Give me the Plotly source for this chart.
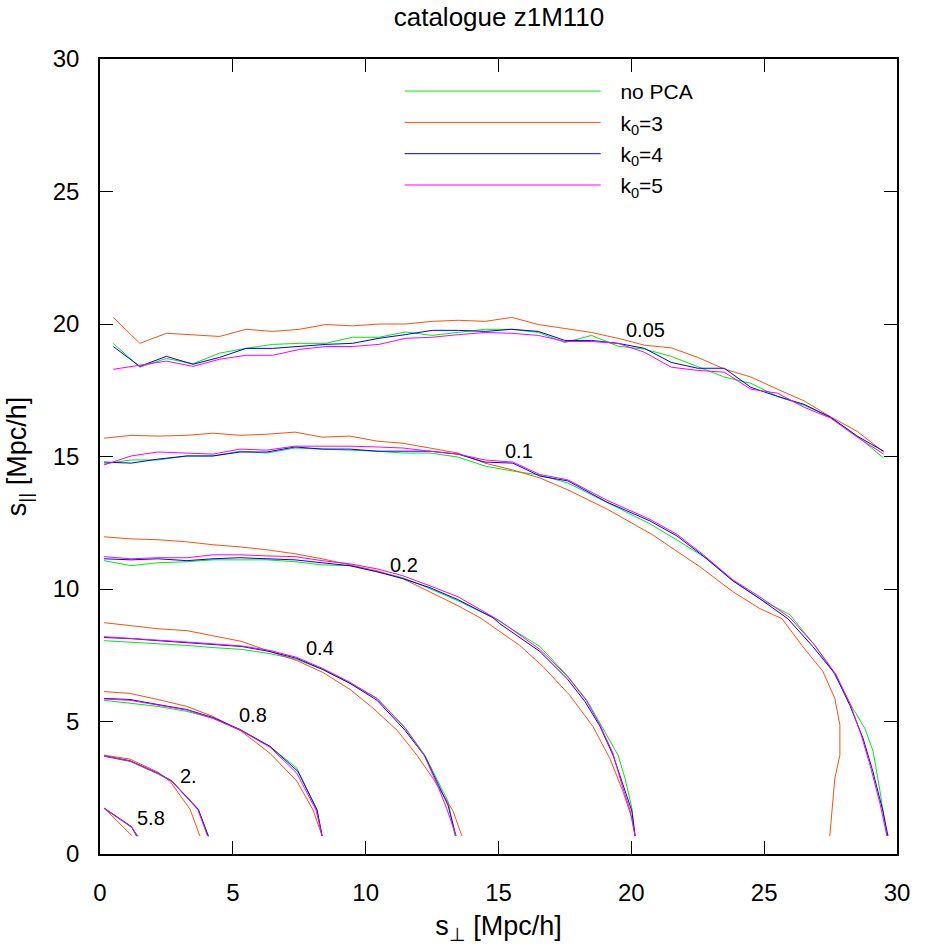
import plotly.graph_objects as go

# ---------------- data ----------------
SERIES = ["no PCA", "k<sub>0</sub>=3", "k<sub>0</sub>=4", "k<sub>0</sub>=5"]
COLORS = ["#00ee00", "#ff4f0f", "#0000ff", "#ff00ff"]

TICKS = [0, 5, 10, 15, 20, 25, 30]

LEVEL_LABELS = ["0.05", "0.1", "0.2", "0.4", "0.8", "2.", "5.8"]
LABEL_X = [20.55, 15.77, 11.46, 8.28, 5.76, 3.33, 1.91]
LABEL_Y = [19.78, 15.22, 10.91, 7.77, 5.23, 2.95, 1.34]

# level 0.05
X_005 = [0.5, 1.5, 2.5, 3.5, 4.5, 5.5, 6.5, 7.5, 8.5, 9.5, 10.5, 11.5, 12.5, 13.5, 14.5,
         15.5, 16.5, 17.5, 18.5, 19.5, 20.5, 21.5, 22.5, 23.5, 24.5, 25.5, 26.5, 27.5, 28.5, 29.5]
Y_005_NOPCA = [19.27, 18.37, 18.7, 18.5, 18.9, 19.08, 19.23, 19.27, 19.27, 19.5, 19.5, 19.7, 19.57, 19.68, 19.8,
               19.8, 19.68, 19.3, 19.57, 19.16, 19.05, 18.78, 18.4, 18.0, 17.76, 17.27, 16.93, 16.48, 15.77, 14.94]
Y_005_K3 = [20.25, 19.27, 19.65, 19.6, 19.53, 19.8, 19.72, 19.8, 19.98, 19.93, 20.0, 20.0, 20.1, 20.14, 20.1,
            20.25, 19.98, 19.83, 19.68, 19.46, 19.2, 19.1, 18.74, 18.3, 18.0, 17.54, 17.1, 16.5, 15.95, 15.17]
Y_005_K4 = [19.15, 18.4, 18.78, 18.48, 18.74, 19.08, 19.08, 19.15, 19.23, 19.27, 19.46, 19.6, 19.76, 19.76, 19.72,
            19.8, 19.72, 19.38, 19.38, 19.27, 19.08, 18.55, 18.33, 18.33, 17.61, 17.27, 16.97, 16.48, 15.77, 15.2]
Y_005_K5 = [18.29, 18.44, 18.6, 18.4, 18.67, 18.82, 18.82, 19.04, 19.15, 19.15, 19.23, 19.46, 19.5, 19.6, 19.68,
            19.65, 19.57, 19.34, 19.34, 19.27, 18.93, 18.37, 18.25, 18.18, 17.54, 17.39, 16.86, 16.45, 15.73, 15.09]

# level 0.1
X_01_NOPCA = [0.15, 1.17, 2.18, 3.27, 4.25, 5.27, 6.28, 7.34, 8.36, 9.41, 10.43, 11.4, 12.42, 13.47, 14.49, 15.54,
              16.56, 17.61, 18.82, 20.7, 21.83, 22.85, 23.82, 24.95, 25.97, 26.91, 27.59, 28.23, 28.79, 29.1, 29.36, 29.62]
Y_01_NOPCA = [14.72, 14.87, 14.87, 15.02, 15.02, 15.2, 15.13, 15.32, 15.28, 15.24, 15.2, 15.13, 15.13, 14.98, 14.64, 14.45,
              14.3, 14.0, 13.4, 12.46, 11.78, 11.14, 10.31, 9.56, 9.03, 7.87, 6.89, 5.68, 4.74, 3.88, 2.37, 0.68]
X_01_K3 = [0.15, 1.17, 2.18, 3.27, 4.25, 5.27, 6.28, 7.34, 8.36, 9.41, 10.43, 11.4, 12.42, 13.47, 14.49, 15.54,
           16.56, 17.61, 19.08, 20.81, 21.57, 22.58, 23.82, 24.84, 25.67, 26.42, 27.21, 27.66, 27.85, 27.85, 27.66, 27.55, 27.47]
Y_01_K3 = [15.69, 15.8, 15.77, 15.8, 15.88, 15.8, 15.84, 15.92, 15.73, 15.77, 15.58, 15.5, 15.32, 15.13, 14.75, 14.49,
           14.19, 13.74, 13.02, 12.04, 11.52, 10.84, 9.9, 9.26, 8.88, 7.87, 6.89, 5.87, 4.86, 3.73, 2.86, 1.73, 0.68]
X_01_K4 = [0.15, 1.17, 2.18, 3.27, 4.25, 5.27, 6.28, 7.34, 8.36, 9.41, 10.43, 11.4, 12.42, 13.47, 14.49, 15.54,
           16.56, 17.61, 19.08, 20.7, 21.72, 22.7, 23.82, 24.84, 25.89, 26.83, 27.66, 28.23, 28.72, 29.09, 29.47, 29.66]
Y_01_K4 = [14.79, 14.75, 14.9, 15.02, 15.02, 15.17, 15.17, 15.36, 15.28, 15.28, 15.2, 15.2, 15.2, 15.09, 14.79, 14.75,
           14.26, 14.08, 13.28, 12.57, 12.0, 11.25, 10.31, 9.63, 8.88, 7.83, 6.81, 5.6, 4.37, 3.12, 1.62, 0.68]
X_01_K5 = [0.15, 1.17, 2.18, 3.27, 4.25, 5.27, 6.28, 7.34, 8.36, 9.41, 10.43, 11.4, 12.42, 13.47, 14.49, 15.54,
           16.56, 17.61, 19.08, 20.7, 21.72, 22.7, 23.82, 24.9, 25.97, 26.91, 27.7, 28.23, 28.65, 29.0, 29.36, 29.62]
Y_01_K5 = [14.68, 15.02, 15.17, 15.13, 15.09, 15.28, 15.24, 15.39, 15.39, 15.39, 15.36, 15.32, 15.2, 15.09, 14.87, 14.79,
           14.32, 14.12, 13.35, 12.63, 12.06, 11.3, 10.35, 9.66, 8.92, 7.87, 6.78, 5.68, 4.5, 3.3, 1.9, 0.68]

# level 0.2
X_02_NOPCA = [0.15, 1.17, 2.18, 3.27, 4.25, 5.27, 6.28, 7.34, 8.36, 9.41, 10.43, 11.4, 12.42, 13.47,
              14.79, 15.05, 16.56, 17.58, 18.33, 18.82, 19.5, 19.76, 20.02, 20.14]
Y_02_NOPCA = [11.07, 10.88, 10.99, 11.03, 11.1, 11.1, 11.1, 11.03, 10.91, 10.88, 10.65, 10.43, 10.01, 9.56,
              8.92, 8.77, 7.83, 6.74, 5.8, 4.93, 3.73, 2.86, 1.73, 0.68]
X_02_K3 = [0.15, 1.17, 2.18, 3.27, 4.25, 5.27, 6.28, 7.34, 8.36, 9.41, 10.43, 11.4, 12.42, 13.47,
           14.3, 15.05, 15.8, 16.67, 17.69, 18.55, 19.19, 19.68, 20.02, 20.14]
Y_02_K3 = [11.97, 11.89, 11.86, 11.78, 11.67, 11.59, 11.48, 11.33, 11.14, 10.91, 10.69, 10.39, 9.9, 9.37,
           8.92, 8.39, 7.87, 7.08, 5.98, 4.82, 3.61, 2.37, 1.35, 0.68]
X_02_K4 = [0.15, 1.17, 2.18, 3.27, 4.25, 5.27, 6.28, 7.34, 8.36, 9.41, 10.43, 11.4, 12.42, 13.47,
           14.79, 15.05, 16.56, 17.58, 18.25, 18.82, 19.31, 19.68, 20.02, 20.14]
Y_02_K4 = [11.14, 11.1, 11.14, 11.07, 11.14, 11.18, 11.14, 11.1, 10.99, 10.88, 10.65, 10.39, 10.05, 9.6,
           8.92, 8.69, 7.64, 6.62, 5.76, 4.82, 3.73, 2.6, 1.62, 0.68]
X_02_K5 = [0.15, 1.17, 2.18, 3.27, 4.25, 5.27, 6.28, 7.34, 8.36, 9.41, 10.43, 11.4, 12.42, 13.47,
           14.79, 15.05, 16.56, 17.58, 18.3, 18.82, 19.31, 19.63, 19.95, 20.14]
Y_02_K5 = [11.22, 11.14, 11.18, 11.18, 11.29, 11.29, 11.25, 11.22, 11.07, 10.95, 10.76, 10.5, 10.12, 9.71,
           8.95, 8.8, 7.72, 6.72, 5.8, 4.87, 3.8, 2.66, 1.66, 0.68]

# level 0.4
X_04_NOPCA = [0.15, 1.13, 2.18, 3.27, 4.25, 5.34, 6.4, 7.41, 8.39, 9.41, 10.43, 11.48, 12.23, 12.68, 13.1, 13.36]
Y_04_NOPCA = [8.05, 8.0, 7.94, 7.87, 7.79, 7.72, 7.56, 7.34, 6.96, 6.44, 5.87, 4.78, 3.73, 2.86, 1.99, 0.68]
X_04_K3 = [0.15, 1.13, 2.18, 3.27, 4.25, 5.34, 6.4, 7.41, 8.39, 9.41, 10.28, 11.18, 11.93, 12.53, 13.29, 13.62]
Y_04_K3 = [8.73, 8.62, 8.5, 8.43, 8.24, 8.02, 7.64, 7.3, 6.85, 6.21, 5.5, 4.67, 3.73, 2.86, 1.62, 0.68]
X_04_K4 = [0.15, 1.13, 2.18, 3.27, 4.25, 5.34, 6.4, 7.41, 8.39, 9.41, 10.43, 11.48, 12.23, 12.68, 13.1, 13.4]
Y_04_K4 = [8.17, 8.13, 8.05, 7.98, 7.9, 7.83, 7.64, 7.38, 6.96, 6.44, 5.8, 4.67, 3.69, 2.75, 1.84, 0.68]
X_04_K5 = [0.15, 1.13, 2.18, 3.27, 4.25, 5.34, 6.4, 7.41, 8.39, 9.41, 10.43, 11.48, 12.2, 12.7, 13.05, 13.4]
Y_04_K5 = [8.2, 8.15, 8.07, 8.0, 7.94, 7.85, 7.68, 7.42, 7.0, 6.48, 5.87, 4.75, 3.73, 2.6, 1.72, 0.68]

# level 0.8
X_08_NOPCA = [0.15, 1.13, 2.18, 3.27, 4.25, 5.27, 6.4, 7.41, 8.17, 8.36]
Y_08_NOPCA = [5.8, 5.68, 5.57, 5.38, 5.12, 4.67, 4.06, 3.24, 1.66, 0.68]
X_08_K3 = [0.15, 1.13, 2.18, 3.27, 4.25, 5.27, 6.4, 7.41, 8.02, 8.36]
Y_08_K3 = [6.13, 6.06, 5.83, 5.57, 5.19, 4.67, 3.8, 2.75, 1.66, 0.68]
X_08_K4 = [0.15, 1.13, 2.18, 3.27, 4.25, 5.27, 6.4, 7.45, 8.17, 8.36]
Y_08_K4 = [5.87, 5.83, 5.64, 5.45, 5.15, 4.7, 4.06, 3.12, 1.66, 0.68]
X_08_K5 = [0.15, 1.13, 2.18, 3.27, 4.25, 5.27, 6.4, 7.41, 8.13, 8.36]
Y_08_K5 = [5.85, 5.8, 5.62, 5.43, 5.12, 4.68, 4.03, 3.05, 1.66, 0.68]

# level 2.
X_2_NOPCA = [0.16, 1.13, 2.2, 2.7, 3.7, 4.08]
Y_2_NOPCA = [3.68, 3.49, 3.01, 2.74, 1.67, 0.67]
X_2_K3 = [0.16, 1.13, 2.18, 2.63, 3.39, 3.76]
Y_2_K3 = [3.73, 3.58, 3.09, 2.75, 1.69, 0.68]
X_2_K4 = [0.16, 1.13, 2.2, 2.7, 3.7, 4.08]
Y_2_K4 = [3.7, 3.52, 3.04, 2.76, 1.69, 0.67]
X_2_K5 = [0.16, 1.13, 2.2, 2.7, 3.68, 4.05]
Y_2_K5 = [3.7, 3.51, 3.03, 2.75, 1.68, 0.67]

# level 5.8
X_58_NOPCA = [0.16, 1.19, 1.44]
Y_58_NOPCA = [1.71, 1.0, 0.67]
X_58_K3 = [0.16, 1.19]
Y_58_K3 = [1.73, 0.7]
X_58_K4 = [0.16, 1.19, 1.38]
Y_58_K4 = [1.73, 1.03, 0.67]
X_58_K5 = [0.16, 1.19, 1.41]
Y_58_K5 = [1.72, 1.02, 0.67]

CONTOURS = [
    [(X_005, Y_005_NOPCA), (X_01_NOPCA, Y_01_NOPCA), (X_02_NOPCA, Y_02_NOPCA), (X_04_NOPCA, Y_04_NOPCA),
     (X_08_NOPCA, Y_08_NOPCA), (X_2_NOPCA, Y_2_NOPCA), (X_58_NOPCA, Y_58_NOPCA)],
    [(X_005, Y_005_K3), (X_01_K3, Y_01_K3), (X_02_K3, Y_02_K3), (X_04_K3, Y_04_K3),
     (X_08_K3, Y_08_K3), (X_2_K3, Y_2_K3), (X_58_K3, Y_58_K3)],
    [(X_005, Y_005_K4), (X_01_K4, Y_01_K4), (X_02_K4, Y_02_K4), (X_04_K4, Y_04_K4),
     (X_08_K4, Y_08_K4), (X_2_K4, Y_2_K4), (X_58_K4, Y_58_K4)],
    [(X_005, Y_005_K5), (X_01_K5, Y_01_K5), (X_02_K5, Y_02_K5), (X_04_K5, Y_04_K5),
     (X_08_K5, Y_08_K5), (X_2_K5, Y_2_K5), (X_58_K5, Y_58_K5)],
]

# ---------------- figure ----------------
FONT = "Liberation Sans, Arial, Helvetica, sans-serif"
LEGEND_PAD = "\u2002\u2009"   # gap between legend line and its text
fig = go.Figure()

for name, color, segs in zip(SERIES, COLORS, CONTOURS):
    xs, ys = [], []
    for sx, sy in segs:
        xs += list(sx) + [None]
        ys += list(sy) + [None]
    fig.add_trace(go.Scatter(x=xs, y=ys, mode="lines", name=LEGEND_PAD + name, legendgroup=name,
                             line=dict(color=color, width=1), connectgaps=False,
                             hoverinfo="skip"))

for lab, lx, ly in zip(LEVEL_LABELS, LABEL_X, LABEL_Y):
    fig.add_annotation(x=lx, y=ly, text=lab, showarrow=False, xref="x", yref="y",
                       font=dict(size=20, color="black", family=FONT))

axis_common = dict(range=[0, 30], tickvals=TICKS, ticktext=[str(t) for t in TICKS],
                   ticks="inside", ticklen=13, tickwidth=1.3, tickcolor="black",
                   showline=True, linecolor="black", linewidth=1.5, mirror="allticks",
                   showgrid=False, zeroline=False,
                   tickfont=dict(size=24, color="black", family=FONT))

fig.update_xaxes(**axis_common, ticklabelstandoff=16,
                 title=dict(text="s<sub>⊥</sub> [Mpc/h]", font=dict(size=27, family=FONT, color="black"),
                            standoff=12))
fig.update_yaxes(**axis_common, ticklabelstandoff=14,
                 title=dict(text="s<sub>||</sub> [Mpc/h]", font=dict(size=27, family=FONT, color="black"),
                            standoff=18))

fig.update_layout(
    width=926, height=948,
    margin=dict(l=100, r=29, t=59, b=92),
    plot_bgcolor="white", paper_bgcolor="white",
    font=dict(family=FONT, color="black"),
    title=dict(text="catalogue z1M110", x=(499 / 926), xanchor="center",
               y=1 - 17 / 948, yanchor="middle",
               font=dict(size=26, family=FONT, color="black")),
    legend=dict(x=0.376, y=0.985, xanchor="left", yanchor="top",
                bgcolor="rgba(0,0,0,0)", borderwidth=0,
                itemwidth=196, traceorder="grouped", tracegroupgap=1,
                font=dict(size=21, family=FONT, color="black")),
    showlegend=True,
)

fig.write_html("out.html")
